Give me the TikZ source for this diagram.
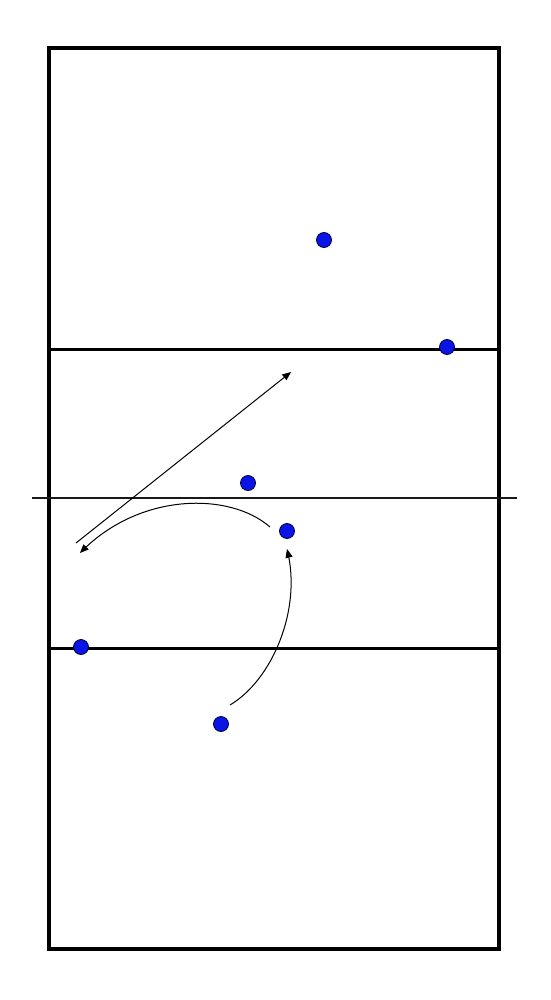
\documentclass[tikz,border=0pt]{standalone}
\usepackage{tikz}
\usepackage{xcolor}
\usetikzlibrary{arrows}

\definecolor{playerblue}{RGB}{10,20,230}

\begin{document}
\begin{tikzpicture}[x=1pt,y=-1pt,line width=1.00pt]
      \useasboundingbox (0,0) rectangle (550,1000);
      \tikzset{player/.style={draw=black!80!blue,fill=playerblue,circle,inner sep=0pt,minimum size=15pt,line width=0.8pt}}

      % court
      \draw [line width=4pt] (49,48) rectangle (499,949);
      \draw [line width=3pt] (49,349) -- (499,349);
      \draw [line width=3pt] (49,648) -- (499,648);
      \draw [line width=2pt,black!90] (32,498) -- (517,498);

      % players
      \node [player] (p1) at (324,240) {};
      \node [player] (p2) at (447,347) {};
      \node [player] (p3) at (248,483) {};
      \node [player] (p4) at (287,531) {};
      \node [player] (p5) at (81,647) {};
      \node [player] (p6) at (221,724) {};

      % runs and passes
      \coordinate (a1) at (76,543);
      \coordinate (a2) at (291,372);
      \coordinate (b1) at (270,527);
      \coordinate (b2) at (80,553);
      \coordinate (c1) at (230,705);
      \coordinate (c2) at (287,549);

      \draw [-triangle 45,line width=1pt] (a1) -- (a2);
      \draw [-triangle 45,line width=1pt] (b1) .. controls (230,492) and (140,492) .. (b2);
      \draw [-triangle 45,line width=1pt] (c1) .. controls (272,680) and (302,610) .. (c2);
\end{tikzpicture}
\end{document}
